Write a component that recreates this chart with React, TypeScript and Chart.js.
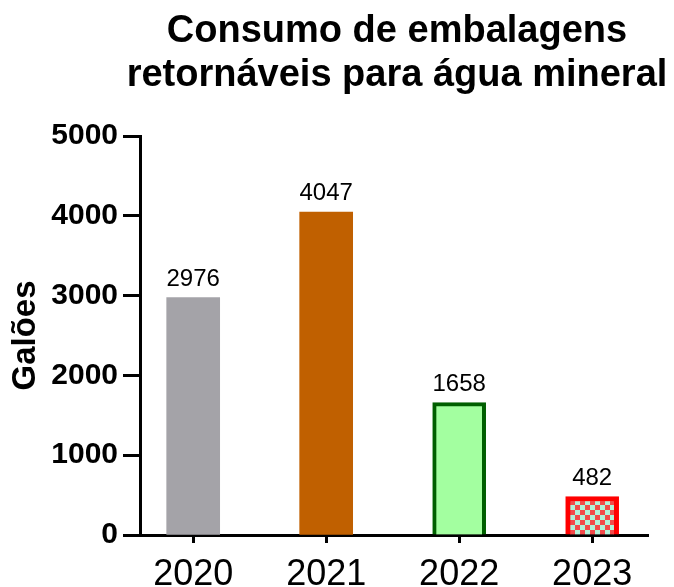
import React, { useEffect, useRef } from "react";
import { Chart, registerables } from "chart.js";

Chart.register(...registerables);

const TITLE_LINES = ["Consumo de embalagens", "retornáveis para água mineral"];
const CATEGORIES = ["2020", "2021", "2022", "2023"];
const VALUES = [2976, 4047, 1658, 482];
const Y_TICKS = [0, 1000, 2000, 3000, 4000, 5000];
const Y_TITLE = "Galões";
const FILL_COLORS = ["#a4a3a8", "#c06000", "#a3ffa0", "checker"];
const BORDER_COLORS = ["#a4a3a8", "#c06000", "#005f00", "#ff0000"];
const BORDER_WIDTHS = [0, 0, 4, 5];
const CHECKER_COLORS = ["#b2f2da", "#f24a4a"];

const FONT = '"Liberation Sans", Arial, Helvetica, sans-serif';

function makeChecker(bg: string, fg: string, cell: number): CanvasPattern | string {
  const c = document.createElement("canvas");
  c.width = cell * 2;
  c.height = cell * 2;
  const x = c.getContext("2d");
  if (!x) return fg;
  x.fillStyle = bg;
  x.fillRect(0, 0, cell * 2, cell * 2);
  x.fillStyle = fg;
  x.fillRect(0, 0, cell, cell);
  x.fillRect(cell, cell, cell, cell);
  return x.createPattern(c, "repeat") || fg;
}

const titlePlugin = {
  id: "chartTitle",
  afterDraw(chart: any) {
    const ctx = chart.ctx;
    ctx.save();
    ctx.font = `bold 38px ${FONT}`;
    ctx.fillStyle = "#000";
    ctx.textAlign = "center";
    ctx.textBaseline = "alphabetic";
    TITLE_LINES.forEach((t, i) => {
      ctx.fillText(t, 397, 42 + 44 * i);
    });
    ctx.restore();
  },
};

const valueLabelPlugin = {
  id: "valueLabels",
  afterDatasetsDraw(chart: any) {
    const ctx = chart.ctx;
    const meta = chart.getDatasetMeta(0);
    ctx.save();
    ctx.font = `24px ${FONT}`;
    ctx.fillStyle = "#000";
    ctx.textAlign = "center";
    ctx.textBaseline = "alphabetic";
    meta.data.forEach((el: any, i: number) => {
      ctx.fillText(String(VALUES[i]), el.x, el.y - 12);
    });
    ctx.restore();
  },
};

export default function App() {
  const ref = useRef<HTMLCanvasElement>(null);

  useEffect(() => {
    document.body.style.margin = "0";
    const canvas = ref.current;
    if (!canvas) return;
    const checker = makeChecker(CHECKER_COLORS[0], CHECKER_COLORS[1], 5);
    const bg = FILL_COLORS.map((c) => (c === "checker" ? checker : c));

    const chart = new Chart(canvas, {
      type: "bar",
      data: {
        datasets: [
          {
            data: VALUES.map((v, i) => ({ x: i, y: v })),
            backgroundColor: bg as any,
            borderColor: BORDER_COLORS,
            borderWidth: BORDER_WIDTHS,
            borderSkipped: "start",
            barThickness: 53,
          },
        ],
      },
      options: {
        animation: false,
        responsive: false,
        devicePixelRatio: 1,
        layout: { padding: { top: 136, right: 26, bottom: 0, left: 0 } },
        plugins: {
          legend: { display: false },
          tooltip: { enabled: false },
          title: { display: false },
        },
        scales: {
          x: {
            type: "linear",
            min: -0.4,
            max: 3.42,
            offset: false,
            z: 1,
            afterBuildTicks: (s: any) => {
              s.ticks = CATEGORIES.map((_, i) => ({ value: i }));
            },
            afterFit: (s: any) => {
              s.height = 52;
            },
            ticks: {
              callback: (v: any) => CATEGORIES[v] ?? "",
              font: { family: FONT, size: 36 },
              color: "#000",
              padding: 10,
              maxRotation: 0,
              autoSkip: false,
            },
            grid: {
              offset: false,
              drawOnChartArea: false,
              drawTicks: true,
              tickLength: 8,
              tickWidth: 3,
              tickColor: "#000",
            },
            border: { display: true, width: 3, color: "#000" },
          },
          y: {
            type: "linear",
            min: 0,
            max: 5000,
            z: 1,
            afterBuildTicks: (s: any) => {
              s.ticks = Y_TICKS.map((v) => ({ value: v }));
            },
            afterFit: (s: any) => {
              s.width = 140;
            },
            ticks: {
              callback: (v: any) => String(v),
              font: { family: FONT, size: 30, weight: "bold" },
              color: "#000",
              padding: 5,
            },
            grid: {
              drawOnChartArea: false,
              drawTicks: true,
              tickLength: 17,
              tickWidth: 3,
              tickColor: "#000",
            },
            border: { display: true, width: 3, color: "#000" },
            title: {
              display: true,
              text: Y_TITLE,
              font: { family: FONT, size: 33, weight: "bold" },
              color: "#000",
              padding: { top: 6, bottom: 0 },
            },
          },
        },
      } as any,
      plugins: [titlePlugin, valueLabelPlugin],
    });
    return () => chart.destroy();
  }, []);

  return (
    <div style={{ position: "fixed", left: 0, top: 0, width: 674, height: 587 }}>
      <canvas ref={ref} width={674} height={587} style={{ display: "block" }} />
    </div>
  );
}
